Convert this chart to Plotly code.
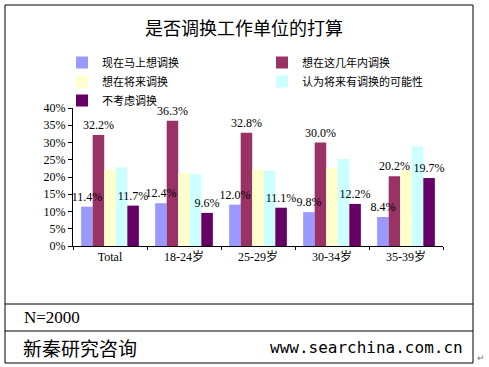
import plotly.graph_objects as go

# ---------------- data ----------------
categories = ["Total", "18-24岁", "25-29岁", "30-34岁", "35-39岁"]
series_names = ["现在马上想调换", "想在这几年内调换", "想在将来调换",
                "认为将来有调换的可能性", "不考虑调换"]
now_switch = [11.4, 12.4, 12.0, 9.8, 8.4]
few_years = [32.2, 36.3, 32.8, 30.0, 20.2]
future = [22.1, 21.2, 22.2, 22.6, 22.0]
possible = [22.8, 20.9, 21.8, 25.2, 28.9]
no_switch = [11.7, 9.6, 11.1, 12.2, 19.7]
labeled = [True, True, False, False, True]
y_ticks = [0, 5, 10, 15, 20, 25, 30, 35, 40]
y_tick_labels = ["0%", "5%", "10%", "15%", "20%", "25%", "30%", "35%", "40%"]
title_text = "是否调换工作单位的打算"
sample_note = "N=2000"
brand = "新秦研究咨询"
website = "www.searchina.com.cn"

# ---------------- styles ----------------
colors = ["#9999FF", "#993366", "#FFFFCC", "#CCFFFF", "#660066"]
W, H = 489, 367
L, R, T, B = 73, 443, 108, 246  # plot area in pixels
SERIF = "Liberation Serif, Noto Sans CJK SC, serif"
CJK = "Noto Sans CJK SC, sans-serif"


def px(x):
    return (x - L) / (R - L)


def py(y):
    return (B - y) / (B - T)


fig = go.Figure()
all_series = [now_switch, few_years, future, possible, no_switch]
for i, (name, vals, col) in enumerate(zip(series_names, all_series, colors)):
    fig.add_trace(go.Bar(
        x=categories, y=vals, name=name, offsetgroup=f"g{i}",
        marker=dict(color=col, line=dict(width=0)),
        textposition="none",
        hoverinfo="skip",
    ))
# value labels drawn last so they sit above every bar
for i, (name, vals, lab) in enumerate(zip(series_names, all_series, labeled)):
    if not lab:
        continue
    fig.add_trace(go.Bar(
        x=categories, y=vals, name=name, offsetgroup=f"g{i}", showlegend=False,
        marker=dict(color="rgba(0,0,0,0)", line=dict(width=0)),
        text=[f"{v:.1f}%" for v in vals],
        textposition="outside",
        textfont=dict(family=SERIF, size=12, color="#000000"),
        constraintext="none",
        cliponaxis=False,
        hoverinfo="skip",
    ))

shapes = [
    dict(type="rect", xref="paper", yref="paper",
         x0=px(5), x1=px(473), y0=py(363), y1=py(5),
         line=dict(color="#000000", width=1)),
    dict(type="line", xref="paper", yref="paper",
         x0=px(5), x1=px(473), y0=py(304), y1=py(304),
         line=dict(color="#000000", width=1)),
    dict(type="line", xref="paper", yref="paper",
         x0=px(5), x1=px(473), y0=py(331), y1=py(331),
         line=dict(color="#000000", width=1)),
]

annotations = [
    dict(text=title_text, xref="paper", yref="paper", x=px(244), y=py(27),
         showarrow=False, xanchor="center", yanchor="middle",
         font=dict(family=CJK, size=18, color="#000000")),
    dict(text=sample_note, xref="paper", yref="paper", x=px(22), y=py(317),
         showarrow=False, xanchor="left", yanchor="middle",
         font=dict(family=SERIF, size=17, color="#000000")),
    dict(text=brand, xref="paper", yref="paper", x=px(21), y=py(347),
         showarrow=False, xanchor="left", yanchor="middle",
         font=dict(family=CJK, size=19, color="#000000")),
    dict(text=website, xref="paper", yref="paper", x=px(465), y=py(347),
         showarrow=False, xanchor="right", yanchor="middle",
         font=dict(family="DejaVu Sans Mono, monospace", size=16, color="#000000")),
    dict(text="↵", xref="paper", yref="paper", x=px(475), y=py(357),
         showarrow=False, xanchor="left", yanchor="middle",
         font=dict(family=CJK, size=9, color="#777777")),
]

fig.update_layout(
    width=W, height=H,
    margin=dict(l=L, r=W - R, t=T, b=H - B, pad=0),
    paper_bgcolor="#FFFFFF", plot_bgcolor="#FFFFFF",
    barmode="group", bargap=0.22, bargroupgap=0,
    showlegend=True,
    legend=dict(orientation="h", x=px(62), y=py(48), xanchor="left", yanchor="top",
                entrywidth=155, entrywidthmode="pixels", itemwidth=30,
                font=dict(family=CJK, size=11, color="#000000"),
                bgcolor="rgba(0,0,0,0)", traceorder="normal", tracegroupgap=0),
    shapes=shapes, annotations=annotations,
    xaxis=dict(type="category", showline=True, linecolor="#000000", linewidth=1,
               ticks="outside", tickson="boundaries", ticklen=3, tickcolor="#000000",
               showgrid=False, zeroline=False,
               tickfont=dict(family=SERIF, size=12, color="#000000")),
    yaxis=dict(range=[0, 40], tickmode="array", tickvals=y_ticks, ticktext=y_tick_labels,
               showline=True, linecolor="#000000", linewidth=1,
               ticks="outside", ticklen=4, tickcolor="#000000",
               showgrid=False, zeroline=False,
               tickfont=dict(family=SERIF, size=12, color="#000000")),
)

fig.write_html("out.html", config={"displayModeBar": False},
               post_script="document.body.style.margin='0';document.body.style.padding='0';")
